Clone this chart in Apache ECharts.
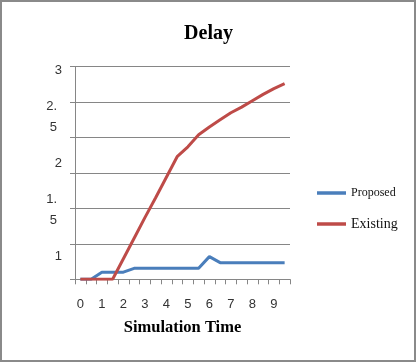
<!DOCTYPE html>
<html>
<head>
<meta charset="utf-8">
<script src="https://cdn.jsdelivr.net/npm/echarts@6/dist/echarts.min.js"></script>
<style>
html,body{margin:0;padding:0;background:#fff;}
#chart{width:417px;height:363px;}
</style>
</head>
<body>
<div id="chart"></div>
<script>
const categories = ['0','0.5','1','1.5','2','2.5','3','3.5','4','4.5','5','5.5','6','6.5','7','7.5','8','8.5','9','9.5'];
const proposed = [0,0,0.1,0.1,0.1,0.155,0.155,0.155,0.155,0.155,0.155,0.155,0.32,0.235,0.235,0.235,0.235,0.235,0.235,0.235];
const existing = [0,0,0,0,0.29,0.58,0.87,1.15,1.44,1.73,1.87,2.04,2.15,2.25,2.35,2.43,2.52,2.61,2.69,2.76];
const yTickValues = [1,1.5,2,2.5,3];
const yTickLabels = ['1','1.\n5','2','2.\n5','3'];
const titleText = 'Delay';
const xTitle = 'Simulation Time';
const seriesNames = ['Proposed','Existing'];

const chart = echarts.init(document.getElementById('chart'));
const grey = '#868686';
chart.setOption({
  animation:false,
  backgroundColor:'#fff',
  graphic:[{type:'rect',shape:{x:1,y:1,width:414,height:360},style:{fill:null,stroke:'#8a8a8a',lineWidth:2},silent:true}],
  title:{text:titleText,left:'center',top:19,textStyle:{fontFamily:'Liberation Serif',fontWeight:'bold',fontSize:20,color:'#000'}},
  grid:{left:75,right:127,top:66.7,bottom:83.7,containLabel:false},
  legend:[
    {data:[{name:seriesNames[0],icon:'rect',textStyle:{fontSize:12,fontFamily:'Liberation Serif',color:'#111'}}],left:312,top:182,itemWidth:29,itemHeight:3.5},
    {data:[{name:seriesNames[1],icon:'rect',textStyle:{fontSize:14,fontFamily:'Liberation Serif',color:'#111'}}],left:312,top:212,itemWidth:29,itemHeight:3.5}
  ],
  xAxis:{type:'category',data:categories,boundaryGap:true,
    name:xTitle,nameLocation:'middle',nameGap:40,
    nameTextStyle:{fontFamily:'Liberation Serif',fontWeight:'bold',fontSize:16.5,color:'#000'},
    axisLine:{lineStyle:{color:grey,width:1}},
    axisTick:{show:true,interval:0,length:5,lineStyle:{color:grey}},
    axisLabel:{interval:function(i){return i%2===0;},margin:19,fontFamily:'Liberation Sans',fontSize:13,color:'#333'},
    splitLine:{show:false}},
  yAxis:[
    {type:'value',min:0,max:3,interval:0.5,
     axisLine:{show:true,lineStyle:{color:grey,width:1}},
     axisTick:{show:true,length:5,lineStyle:{color:grey}},
     axisLabel:{show:false},
     splitLine:{show:true,lineStyle:{color:grey,width:1}}},
    {type:'value',min:0.749,max:3.035,position:'left',
     axisLine:{show:false},axisTick:{show:false},splitLine:{show:false},
     axisLabel:{show:true,customValues:yTickValues,margin:13,fontFamily:'Liberation Sans',fontSize:13,color:'#333',
       formatter:function(v){
         for(let k=0;k<yTickValues.length;k++){ if(Math.abs(v-yTickValues[k])<1e-6){ const t=yTickLabels[k]; return t.indexOf('\n')>=0 ? t.split('\n').map(s=>'{m|'+s+'}').join('\n') : t; } }
         return '';
       },
       rich:{m:{fontFamily:'Liberation Sans',fontSize:13,color:'#333',padding:[0,5,0,0],lineHeight:21}}}}
  ],
  series:[
    {name:seriesNames[0],type:'line',data:proposed,symbol:'none',yAxisIndex:0,lineStyle:{color:'#4A7EBB',width:3},itemStyle:{color:'#4A7EBB'}},
    {name:seriesNames[1],type:'line',data:existing,symbol:'none',yAxisIndex:0,lineStyle:{color:'#BE4B48',width:3},itemStyle:{color:'#BE4B48'}}
  ]
});
</script>
</body>
</html>
